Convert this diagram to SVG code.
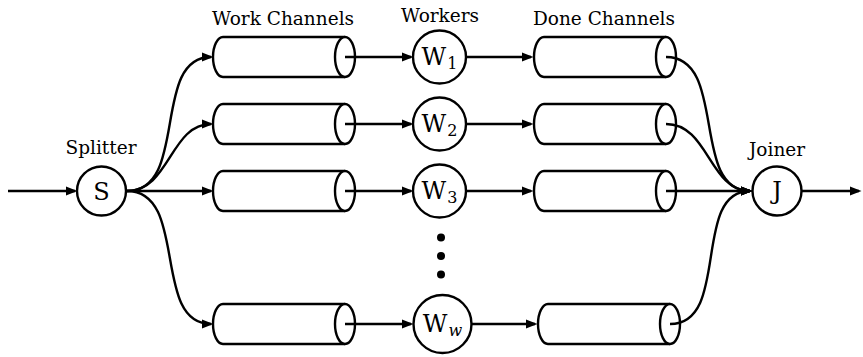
<svg xmlns="http://www.w3.org/2000/svg" width="863" height="357" viewBox="0 0 863 357">
<style>
.ln{fill:none;stroke:#000;stroke-width:2.4}
.nd{fill:#fff;stroke:#000;stroke-width:2.4}
text{font-family:"DejaVu Serif","Liberation Serif",serif;fill:#000;text-anchor:middle}
.lbl{font-size:18.5px}
.big{font-size:24px}
.sub{font-size:16px}
.dot{fill:#000}
</style>
<defs>
<marker id="ah" markerUnits="userSpaceOnUse" markerWidth="12" markerHeight="10" refX="8" refY="5" orient="auto" overflow="visible">
<path d="M-1,0.6 L10.5,5 L-1,9.4 Z" fill="#000"/>
</marker>
<g id="cyl">
<path class="nd" d="M0,-20 L-122,-20 A10,20 0 0 0 -122,20 L0,20"/>
<ellipse class="nd" cx="0" cy="0" rx="10" ry="20"/>
</g>
</defs>

<!-- labels -->
<g id="labels">
<text class="lbl" x="283" y="25">Work Channels</text>
<text class="lbl" x="440" y="22">Workers</text>
<text class="lbl" x="604" y="25">Done Channels</text>
<text class="lbl" x="101" y="154">Splitter</text>
<text class="lbl" x="777" y="156">Joiner</text>
</g>

<!-- channels -->
<g id="work1"><use href="#cyl" x="345" y="57"/></g>
<g id="work2"><use href="#cyl" x="345" y="124"/></g>
<g id="work3"><use href="#cyl" x="345" y="191"/></g>
<g id="workw"><use href="#cyl" x="345" y="324"/></g>
<g id="done1"><use href="#cyl" x="666" y="57"/></g>
<g id="done2"><use href="#cyl" x="666" y="124"/></g>
<g id="done3"><use href="#cyl" x="666" y="191"/></g>
<g id="donew"><use href="#cyl" x="670" y="324"/></g>

<!-- splitter / joiner -->
<g id="splitter"><circle class="nd" cx="101.5" cy="191" r="24.5"/><text class="big" x="101.5" y="200">S</text></g>
<g id="joiner"><circle class="nd" cx="777" cy="191" r="24.5"/><text class="big" x="777" y="199">J</text></g>

<!-- workers -->
<g id="w1"><circle class="nd" cx="439.5" cy="57" r="26.5"/><text class="big" x="439.5" y="65">W<tspan class="sub" dx="1" dy="4">1</tspan></text></g>
<g id="w2"><circle class="nd" cx="439.5" cy="124" r="26.5"/><text class="big" x="439.5" y="132">W<tspan class="sub" dx="1" dy="4">2</tspan></text></g>
<g id="w3"><circle class="nd" cx="439.5" cy="191" r="26.5"/><text class="big" x="439.5" y="199">W<tspan class="sub" dx="1" dy="4">3</tspan></text></g>
<g id="ww"><circle class="nd" cx="442.5" cy="324" r="29"/><text class="big" x="442.5" y="332">W<tspan class="sub" dx="1" dy="4" font-style="italic">w</tspan></text></g>

<g id="dots">
<circle class="dot" cx="441" cy="237.5" r="4"/>
<circle class="dot" cx="441" cy="256" r="4"/>
<circle class="dot" cx="441" cy="274.5" r="4"/>
</g>

<!-- connectors -->
<g id="connectors" class="ln" marker-end="url(#ah)">
<path d="M8,191 L75,191"/>
<path d="M127,191 C189.3,191 150.7,57 211,57"/>
<path d="M127,191 C169.7,191 170.3,124 211,124"/>
<path d="M127,191 L211,191"/>
<path d="M127,191 C189,191 151,324 211,324"/>

<path d="M345,57 L411,57"/>
<path d="M345,124 L411,124"/>
<path d="M345,191 L411,191"/>
<path d="M345,324 L411,324"/>

<path d="M466,57 L531,57"/>
<path d="M466,124 L531,124"/>
<path d="M466,191 L531,191"/>
<path d="M471.5,324 L535,324"/>

<path d="M666,57 C728.3,57 689.7,191 750,191"/>
<path d="M666,124 C708.7,124 709.3,191 750,191"/>
<path d="M666,191 L750,191"/>
<path d="M670,324 C731,324 691,191 750,191"/>

<path d="M802,191 L859,191"/>
</g>
</svg>
